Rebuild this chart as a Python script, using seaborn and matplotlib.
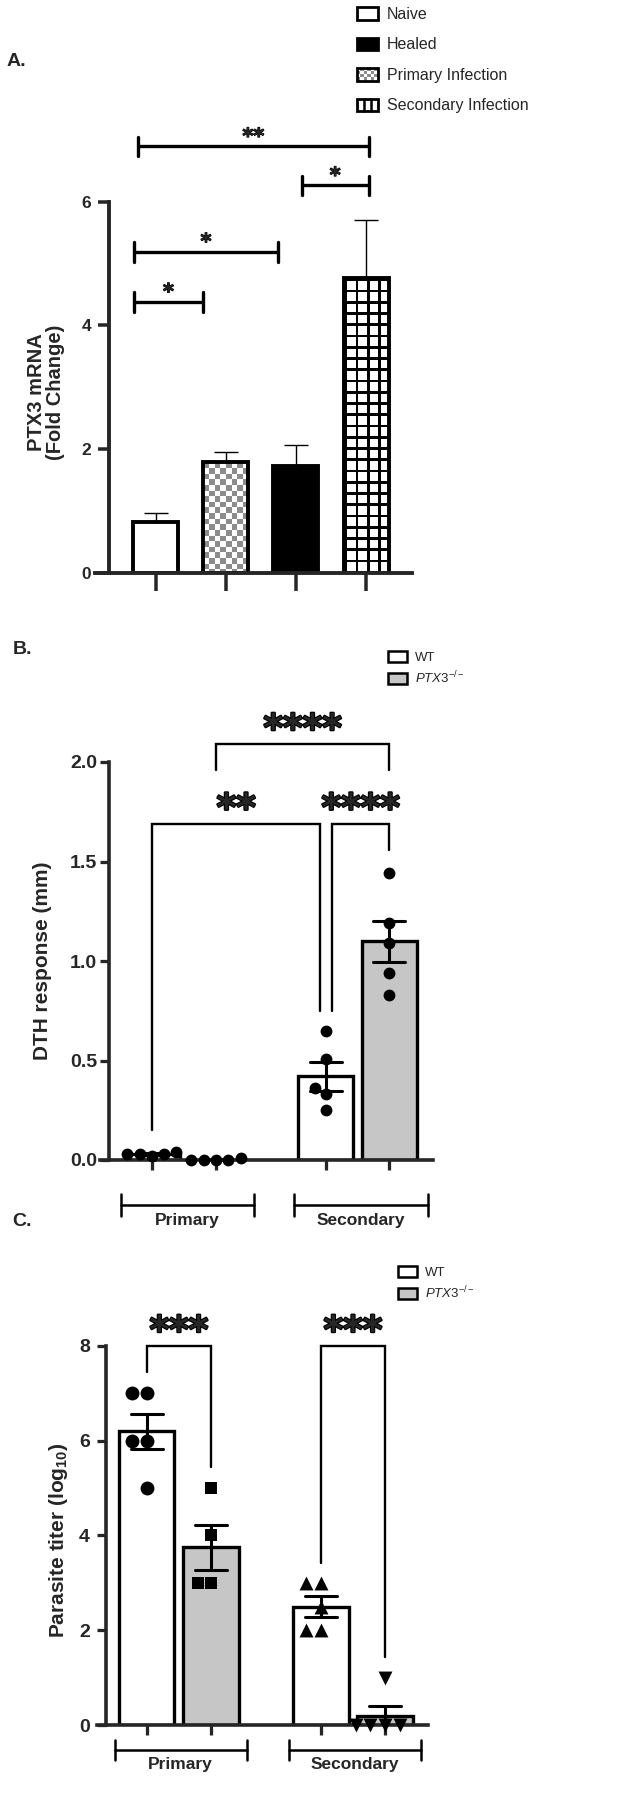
import numpy as np
import pandas as pd
import matplotlib
matplotlib.use("Agg")
import matplotlib.pyplot as plt
import matplotlib.patheffects as pe
import seaborn as sns
from matplotlib.patches import Patch, Rectangle
from matplotlib.lines import Line2D
from matplotlib.legend_handler import HandlerBase
from matplotlib.ticker import FormatStrFormatter

## Panel A - PTX3 mRNA (mean and SEM)
grupos_a = ["Naive", "Primary Infection", "Healed", "Secondary Infection"]
media_a = [0.82, 1.79, 1.73, 4.76]
epm_a = [0.15, 0.17, 0.34, 0.94]
legenda_a = ["Naive", "Healed", "Primary Infection", "Secondary Infection"]
# comparisons: x start, x end, height, label
comp_a = [(-0.30, 0.67, 4.38, "*"), (-0.30, 1.74, 5.19, "*"),
          (2.08, 3.04, 6.26, "*"), (-0.25, 3.04, 6.89, "**")]

## Panel B - DTH response (mm), one value per mouse
dth_wt_primary = [0.03, 0.04, 0.03, 0.03, 0.02]
dth_ko_primary = [0.0, 0.01, 0.0, 0.0, 0.0]
dth_wt_secondary = [0.65, 0.51, 0.36, 0.33, 0.25]
dth_ko_secondary = [1.44, 1.19, 1.09, 0.94, 0.83]

## Panel C - parasite titer (log10), one value per mouse
titer_wt_primary = [7, 7, 6, 6, 5]
titer_ko_primary = [5, 4, 3, 3]
titer_wt_secondary = [3, 3, 2.5, 2, 2]
titer_ko_secondary = [1, 0, 0, 0, 0]

infeccoes = ["Primary", "Secondary"]
genotipos = ["WT", "PTX3"]
cores_gen = {"WT": "white", "PTX3": "#c6c6c6"}
ko_label = r"$\mathit{PTX3}^{-/-}$"

sns.set_style("ticks")
plt.rcParams["font.family"] = ["Liberation Sans", "DejaVu Sans"]
plt.rcParams["mathtext.fontset"] = "custom"
plt.rcParams["mathtext.rm"] = "Liberation Sans"
plt.rcParams["mathtext.it"] = "Liberation Sans:italic"
plt.rcParams["mathtext.bf"] = "Liberation Sans:bold"

W, H = 640, 1807
fig = plt.figure(figsize=(W / 100, H / 100), dpi=100)
fig.patch.set_facecolor("white")


def add_ax(left, right, top, bottom):
    return fig.add_axes([left / W, 1 - bottom / H, (right - left) / W, (bottom - top) / H])


def estilo(ax, spine_x, ymax, lw, xlen, ylen, fs, pad):
    for s in ["top", "right"]:
        ax.spines[s].set_visible(False)
    ax.spines["left"].set_position(("data", spine_x))
    ax.spines["left"].set_bounds(0, ymax)
    for s in ["left", "bottom"]:
        ax.spines[s].set_linewidth(lw)
        ax.spines[s].set_capstyle("projecting")
    ax.tick_params(axis="x", length=xlen, width=lw * 0.9, labelbottom=False, direction="out")
    ax.tick_params(axis="y", length=ylen, width=lw * 0.9, labelsize=fs, pad=pad, direction="out")
    plt.setp(ax.get_yticklabels(), fontweight="bold")
    ax.set_xlabel("")
    ax.set_ylabel("")


def tabela(valores):
    linhas = []
    for (inf, gen), vals in valores.items():
        for v in vals:
            linhas.append({"infection": inf, "genotype": gen, "value": v})
    df = pd.DataFrame(linhas)
    # bar centres: group index +/- half the within-group spacing
    df["pos"] = df["infection"].map({"Primary": 0, "Secondary": 1}) + \
        (df["genotype"].map({"WT": 0, "PTX3": 1}) - 0.5) * 0.368
    return df


def preencher(ax, barra, tipo):
    x0, y0 = barra.get_x(), barra.get_y()
    x1, y1 = x0 + barra.get_width(), y0 + barra.get_height()
    (a, b), (c, d) = ax.transData.transform([(x0, y0), (x1, y1)])
    nx, ny = int(round(c - a)), int(round(d - b))
    jj, ii = np.meshgrid(np.arange(nx), np.arange(ny))
    if tipo == "checker":
        lado = nx / 8
        img = np.where(((ii // lado + jj // lado) % 2) == 0, 0.55, 1.0)
    else:
        lado = nx / 4
        linha = ((jj % lado) < 2.6) | ((ii % lado) < 2.6)
        img = np.where(linha, 0.0, 1.0)
    im = ax.imshow(img, cmap="gray", vmin=0, vmax=1, extent=(x0, x1, y0, y1), origin="upper",
                   interpolation="nearest", aspect="auto", zorder=barra.get_zorder() - 0.05)
    im.set_clip_path(barra)
    barra.set_facecolor("none")


class PadraoHandler(HandlerBase):
    def __init__(self, tipo):
        super().__init__()
        self.tipo = tipo

    def create_artists(self, legend, orig_handle, xdescent, ydescent, width, height, fontsize, trans):
        x0, y0 = -xdescent, -ydescent
        arts = [Rectangle((x0, y0), width, height, facecolor="white", edgecolor="none", transform=trans)]
        if self.tipo == "checker":
            n, m = 6, 4
            cw, ch = width / n, height / m
            for i in range(n):
                for j in range(m):
                    if (i + j) % 2 == 0:
                        arts.append(Rectangle((x0 + i * cw, y0 + j * ch), cw, ch, facecolor="#8c8c8c",
                                              edgecolor="none", transform=trans))
        else:
            for k in (1, 2):
                xk = x0 + width * k / 3
                arts.append(Line2D([xk, xk], [y0, y0 + height], color="black", lw=1.8, transform=trans))
        arts.append(Rectangle((x0, y0), width, height, facecolor="none", edgecolor="black", linewidth=2.0,
                              transform=trans))
        return arts


def chave_sig(ax, x1, x2, y1, y2, topo, texto, lw=1.7, fs=27, off=2.5):
    ax.plot([x1, x1, x2, x2], [y1, topo, topo, y2], color="black", lw=lw, clip_on=False,
            solid_joinstyle="miter")
    ax.annotate(texto, ((x1 + x2) / 2, topo), xytext=(0, off), textcoords="offset points",
                ha="center", va="baseline", fontsize=fs, fontweight="bold", family="DejaVu Sans",
                annotation_clip=False, path_effects=[pe.withStroke(linewidth=1.6, foreground="black")])


def chave_grupo(ax, centro, meia, y, cap, ytexto, texto):
    ax.plot([centro - meia, centro + meia], [y, y], color="black", lw=1.8, clip_on=False)
    for xc in (centro - meia, centro + meia):
        ax.plot([xc, xc], [y - cap, y + cap], color="black", lw=1.8, clip_on=False)
    ax.text(centro, ytexto, texto, ha="center", va="center", fontsize=12.5, fontweight="bold", clip_on=False)


## ---------------- Panel A ----------------
axA = add_ax(95, 412, 121.1, 573)
cores_a = {"Naive": "white", "Primary Infection": "white", "Healed": "black", "Secondary Infection": "white"}
sns.barplot(x=grupos_a, y=media_a, hue=grupos_a, palette=cores_a, order=grupos_a, width=0.64,
            edgecolor="black", linewidth=2.8, errorbar=None, legend=False, ax=axA)
barras = sorted(axA.patches, key=lambda p: p.get_x())
centros = [b.get_x() + b.get_width() / 2 for b in barras]
axA.errorbar(centros, media_a, yerr=[np.zeros(len(media_a)), epm_a], fmt="none", ecolor="black",
             elinewidth=1.0, capsize=8.6, capthick=1.0, zorder=0.5)
axA.set_xlim(-0.862, 3.654)
axA.set_ylim(0, 7.3)
axA.set_yticks([0, 2, 4, 6])
axA.set_xticks(range(len(grupos_a)))
estilo(axA, -0.662, 6, 2.8, 13, 8, 12.5, 5)
preencher(axA, barras[1], "checker")
preencher(axA, barras[3], "grid")
axA.set_xlim(-0.862, 3.654)
axA.set_ylim(0, 7.3)

for x1, x2, y, txt in comp_a:
    axA.plot([x1, x2], [y, y], color="black", lw=2.4, clip_on=False, solid_capstyle="butt")
    for xc in (x1, x2):
        axA.plot([xc, xc], [y - 0.16, y + 0.16], color="black", lw=2.4, clip_on=False)
    axA.annotate(txt, ((x1 + x2) / 2, y), xytext=(0, 2.6), textcoords="offset points", ha="center",
                 va="baseline", fontsize=15, fontweight="bold", family="DejaVu Sans", annotation_clip=False,
                 path_effects=[pe.withStroke(linewidth=0.8, foreground="black")])

alcas = {g: Patch(facecolor=cores_a[g], edgecolor="black", linewidth=2.0, label=g) for g in legenda_a}
mapa = {alcas["Primary Infection"]: PadraoHandler("checker"),
        alcas["Secondary Infection"]: PadraoHandler("grid")}
axA.legend(handles=[alcas[g] for g in legenda_a], handler_map=mapa, loc="upper left",
           bbox_to_anchor=(357 / W, 1 - 7 / H), bbox_transform=fig.transFigure, frameon=False,
           fontsize=11.5, handlelength=1.3, handleheight=0.8, handletextpad=0.55, labelspacing=0.97,
           borderpad=0, borderaxespad=0)

fig.text(7 / W, 1 - 62 / H, "A.", ha="left", va="center", fontsize=14, fontweight="bold")
fig.text(46 / W, 1 - 392 / H, "PTX3 mRNA\n(Fold Change)", rotation=90, ha="center", va="center",
         fontsize=14.5, fontweight="bold", linespacing=0.95, multialignment="center")

## ---------------- Panel B ----------------
df_b = tabela({("Primary", "WT"): dth_wt_primary, ("Primary", "PTX3"): dth_ko_primary,
               ("Secondary", "WT"): dth_wt_secondary, ("Secondary", "PTX3"): dth_ko_secondary})
pos_b = df_b.groupby(["infection", "genotype"])["pos"].first()

axB = add_ax(100, 433, 712.25, 1160)
sns.barplot(data=df_b, x="pos", y="value", hue="genotype", palette=cores_gen, native_scale=True,
            dodge=False, orient="x", width=0.86, edgecolor="black", linewidth=2.4, errorbar="se",
            capsize=0.5, err_kws={"color": "black", "linewidth": 2.2}, legend=False, ax=axB)
sns.swarmplot(data=df_b, x="pos", y="value", native_scale=True, orient="x", color="black", size=8.5,
              linewidth=0, ax=axB, zorder=4, clip_on=False)
axB.set_xlim(-0.484, 1.435)
axB.set_ylim(0, 2.25)
axB.set_yticks([0, 0.5, 1.0, 1.5, 2.0])
axB.yaxis.set_major_formatter(FormatStrFormatter("%.1f"))
axB.set_xticks(sorted(df_b["pos"].unique()))
estilo(axB, -0.432, 2.0, 2.6, 7, 6.5, 14, 2)

wp, kp = pos_b[("Primary", "WT")], pos_b[("Primary", "PTX3")]
ws, ks = pos_b[("Secondary", "WT")], pos_b[("Secondary", "PTX3")]
chave_sig(axB, wp, ws - 0.03, 0.15, 0.75, 1.69, "**")
chave_sig(axB, ws + 0.037, ks, 0.75, 1.56, 1.69, "****")
chave_sig(axB, kp, ks, 1.96, 1.96, 2.09, "****")
for g, inf in enumerate(infeccoes):
    chave_grupo(axB, g + 0.02, 0.385, -0.226, 0.053, -0.305, inf)

alcas_b = [Patch(facecolor=cores_gen[g], edgecolor="black", linewidth=1.8,
                 label=("WT" if g == "WT" else ko_label)) for g in genotipos]
axB.legend(handles=alcas_b, loc="upper left", bbox_to_anchor=(388 / W, 1 - 651 / H),
           bbox_transform=fig.transFigure, frameon=False, fontsize=9.5, handlelength=1.44,
           handleheight=0.9, handletextpad=0.6, labelspacing=0.44, borderpad=0, borderaxespad=0)
fig.text(13 / W, 1 - 650 / H, "B.", ha="left", va="center", fontsize=14, fontweight="bold")
fig.text(42.5 / W, 1 - 961 / H, "DTH response (mm)", rotation=90, ha="center", va="center",
         fontsize=15, fontweight="bold")

## ---------------- Panel C ----------------
df_c = tabela({("Primary", "WT"): titer_wt_primary, ("Primary", "PTX3"): titer_ko_primary,
               ("Secondary", "WT"): titer_wt_secondary, ("Secondary", "PTX3"): titer_ko_secondary})
pos_c = df_c.groupby(["infection", "genotype"])["pos"].first()
marcadores = {("Primary", "WT"): "o", ("Primary", "PTX3"): "s",
              ("Secondary", "WT"): "^", ("Secondary", "PTX3"): "v"}
tamanhos = {"o": 10, "s": 9, "^": 10, "v": 10}

axC = add_ax(97, 428, 1329.4, 1725)
sns.barplot(data=df_c, x="pos", y="value", hue="genotype", palette=cores_gen, native_scale=True,
            dodge=False, orient="x", width=0.86, edgecolor="black", linewidth=2.4, errorbar="se",
            capsize=0.5, err_kws={"color": "black", "linewidth": 2.2}, legend=False, ax=axC)
for chave, m in marcadores.items():
    sub = df_c[(df_c["infection"] == chave[0]) & (df_c["genotype"] == chave[1])]
    sns.swarmplot(data=sub, x="pos", y="value", native_scale=True, orient="x", color="black",
                  marker=m, size=tamanhos[m], linewidth=0, ax=axC, zorder=4, clip_on=False)
axC.set_xlim(-0.471, 1.431)
axC.set_ylim(0, 8.35)
axC.set_yticks([0, 2, 4, 6, 8])
axC.set_xticks(sorted(df_c["pos"].unique()))
estilo(axC, -0.42, 8, 2.6, 7, 6.5, 14, 5)

wp, kp = pos_c[("Primary", "WT")], pos_c[("Primary", "PTX3")]
ws, ks = pos_c[("Secondary", "WT")], pos_c[("Secondary", "PTX3")]
chave_sig(axC, wp, kp, 7.45, 5.45, 8.0, "***")
chave_sig(axC, ws, ks, 3.42, 1.44, 8.0, "***")
for g, inf in enumerate(infeccoes):
    chave_grupo(axC, g + 0.01, 0.38, -0.528, 0.22, -0.844, inf)

alcas_c = [Patch(facecolor=cores_gen[g], edgecolor="black", linewidth=1.8,
                 label=("WT" if g == "WT" else ko_label)) for g in genotipos]
axC.legend(handles=alcas_c, loc="upper left", bbox_to_anchor=(398 / W, 1 - 1266 / H),
           bbox_transform=fig.transFigure, frameon=False, fontsize=9.5, handlelength=1.44,
           handleheight=0.9, handletextpad=0.6, labelspacing=0.44, borderpad=0, borderaxespad=0)
fig.text(12 / W, 1 - 1221 / H, "C.", ha="left", va="center", fontsize=14, fontweight="bold")
fig.text(59 / W, 1 - 1540 / H, r"Parasite titer (log$_{\mathbf{10}}$)", rotation=90, ha="center",
         va="center", fontsize=15, fontweight="bold")

fig.savefig("out.png", dpi=100, facecolor="white")
